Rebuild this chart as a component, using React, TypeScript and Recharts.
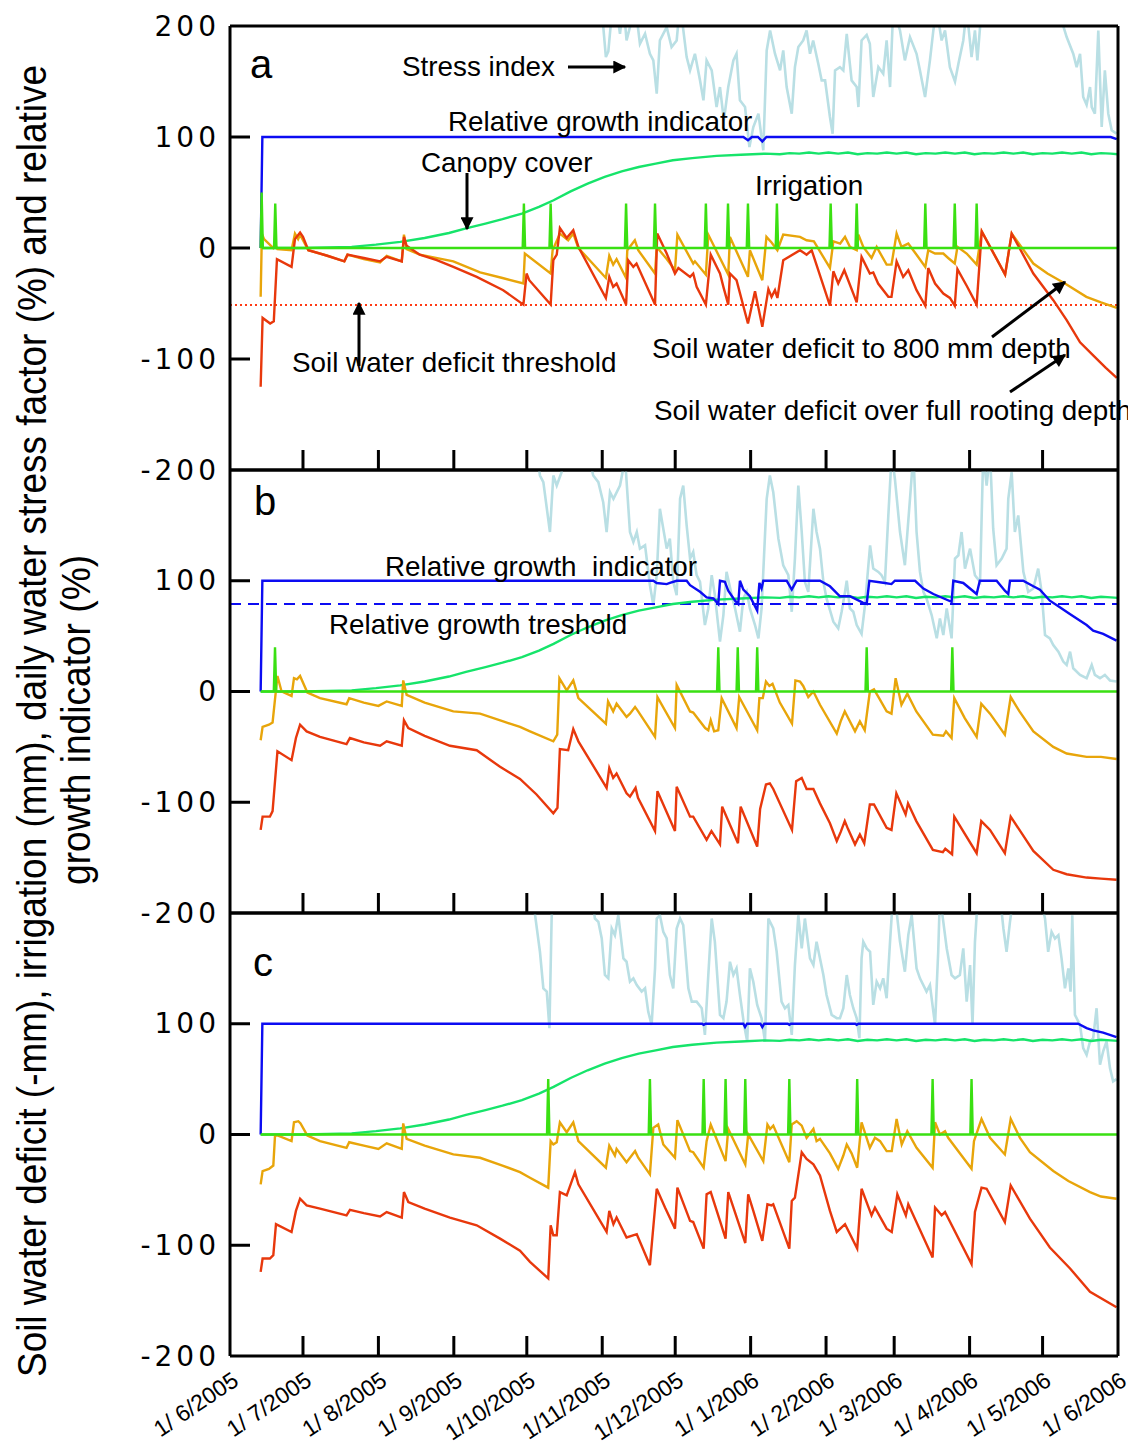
import React from "react";
import { LineChart, Line, XAxis, YAxis, ReferenceLine } from "recharts";

// x = days since 1 June 2005
const monthDays = [0, 30, 61, 92, 122, 153, 183, 214, 245, 273, 304, 334, 365];
const monthLabels = [
  "1/ 6/2005", "1/ 7/2005", "1/ 8/2005", "1/ 9/2005", "1/10/2005", "1/11/2005", "1/12/2005",
  "1/ 1/2006", "1/ 2/2006", "1/ 3/2006", "1/ 4/2006", "1/ 5/2006", "1/ 6/2006",
];
const yTicksFirst = [200, 100, 0, -100, -200];
const yTicksRest = [100, 0, -100, -200];
const seasonStart = 12.6;
const deficitThreshold = -51.4;
const growthThreshold = 79;

const canopy = [
  [12.6, 0], [30, 0], [40, 0.5], [50, 1], [60, 3], [70, 5.5], [80, 9], [90, 13.5], [97, 17.7], [105, 22],
  [112, 26], [120, 31], [127, 37], [133, 43], [140, 51], [147, 58], [154, 64], [161, 69], [168, 73], [175, 76],
  [182, 79], [190, 81], [200, 83], [210, 84], [220, 85], [226, 84.5], [230, 85.5], [234, 85], [238, 86], [242, 85],
  [246, 86], [250, 85], [254, 86], [258, 84.5], [262, 85.5], [266, 85], [270, 86], [274, 85], [278, 86], [282, 84.5],
  [286, 85.5], [290, 85], [294, 86], [298, 85], [302, 86], [306, 84.5], [310, 85.5], [314, 85], [318, 86], [322, 85],
  [326, 86], [330, 84.5], [334, 85.5], [338, 85], [342, 86], [346, 85], [350, 86], [354, 84.5], [358, 85.5], [362, 85], [365, 84.5],
];

// ---- panel a ----
const stressA = [
  [150, 240], [153.2, 205], [154.5, 172], [155.5, 177], [156.5, 201], [158.2, 225], [160.3, 193], [161.7, 220], [163, 187], [164.4, 199],
  [166.5, 220], [168.5, 184], [170.6, 193], [172.6, 175], [174, 169], [175.4, 139], [176.7, 187], [179.5, 199], [181.5, 181], [183.6, 187],
  [185, 220], [187.7, 172], [189.1, 160], [191.1, 175], [193.2, 151], [194.6, 133], [195.9, 169], [198, 160], [200, 127], [201.4, 145],
  [203, 115], [204.8, 145], [206.9, 169], [208.2, 175], [209.6, 133], [211.7, 127], [213.5, 91], [215.1, 109], [217.2, 121], [219.2, 88],
  [220.6, 178], [222, 196], [224, 175], [226.1, 160], [227.4, 178], [228.8, 145], [230.9, 121], [232.2, 163], [233.6, 181], [235.6, 187],
  [237, 196], [238.4, 175], [239.7, 187], [241.8, 166], [243.2, 151], [244.6, 151], [246.6, 118], [247.7, 103], [248.7, 160], [250.7, 163],
  [252.1, 160], [253.5, 193], [255.5, 151], [257.6, 145], [258.3, 127], [259.6, 187], [261.7, 192], [263, 184], [264.4, 136], [266.5, 163],
  [268.5, 157], [269.9, 187], [271.3, 145], [272.6, 215], [275.4, 196], [277.4, 169], [279.5, 190], [282.2, 175], [283.6, 160], [285.7, 136],
  [287.7, 169], [289.1, 196], [290.5, 215], [292.5, 187], [293.9, 196], [295.9, 163], [298, 150], [299.4, 166], [301.4, 187], [302.8, 215],
  [304.8, 172], [306.2, 196], [307.2, 169], [308.3, 199], [309.6, 225], [315, 240], [325, 235], [335, 240], [338.4, 220], [341.1, 210],
  [343.9, 190], [346.6, 175], [348, 163], [349.4, 175], [350.7, 136], [352.1, 129], [353.5, 145], [354.2, 127], [355.5, 121], [356.9, 196],
  [358.3, 109], [359.6, 160], [361, 121], [362.4, 106], [364.4, 103],
];
const growthA = [
  [12.6, 0], [13.3, 100], [211, 100], [212.9, 97], [214.5, 100], [217, 100], [218.8, 96], [220.5, 100], [362, 100], [364.5, 98],
];
const irrigationA = [
  [13, 50], [18.6, 40], [120.8, 40], [131.8, 40], [162.8, 40], [174.7, 40], [195.6, 40], [204.7, 40], [212.9, 40],
  [224.8, 40], [246.9, 40], [257.6, 40], [285.8, 40], [297.9, 40], [306.9, 40],
];
const deficit800A = [
  [12.6, -44], [13.1, 13], [14, 8], [17.8, 0], [18.6, 3], [19.5, -1], [25.3, -2], [26.7, 13], [28, 8], [28.8, 12],
  [32.2, -2], [40, -7], [47, -12], [48.3, -6], [55, -10], [61.7, -13], [64.4, -7], [70.6, -12], [71.5, 12], [72.6, -1],
  [78, -6], [91.8, -12], [102.8, -22], [112, -27], [120.6, -32], [121.2, -5], [131.8, -23], [132.6, -2], [135.6, 13], [139, 7],
  [141.1, 13], [143.2, 0], [154.5, -27], [155.9, -7], [157.5, -15], [158.9, -10], [162.8, -27], [163.3, -2], [166.4, 7], [167.8, -2],
  [174.7, -23], [175.4, 1], [179.5, -10], [182.9, -20], [183.9, 12], [190.4, -14], [191.1, -12], [195.6, -24], [196.6, 12], [204.8, -24],
  [205.5, 10], [212.9, -26], [213.7, -2], [218.8, -29], [220.5, 10], [222.6, 5], [225, -2], [227.4, 12], [234.3, 10], [237, 7],
  [240, 6], [246.6, -18], [248, 6], [250.8, 4], [252.8, 10], [254.8, 1], [257.6, -2], [258.3, 12], [260.3, 1], [263.7, -9],
  [265.8, 1], [269.9, -15], [271.9, -15], [274, 13], [276, 1], [278.8, 4], [282.2, -6], [285.8, -17], [287, -2], [289.8, -5],
  [293.2, -5], [295.2, -9], [297.9, -14], [299, 1], [302.8, -5], [306.9, -15], [309, 15], [318.6, -24], [321.3, 13], [330.2, -14],
  [336, -23], [343.2, -32], [352, -44], [358, -49], [364.5, -54],
];
const deficitRootA = [
  [12.6, -125], [13.4, -63], [16.5, -68], [18, -66], [19.3, -10], [25.3, -17], [26.7, 8], [28.8, 14], [30, 10], [32.2, -2],
  [40, -7], [47, -12], [48.3, -6], [55, -9], [61.7, -12], [64.4, -8], [70.6, -12], [71.5, 10], [72.6, 2], [78, -6],
  [85, -11], [91.8, -17], [101.4, -26], [112.3, -38], [120.6, -51], [121.9, -23], [123, -29], [131.8, -51], [132.9, -11], [134.3, -6],
  [135.6, 18], [138.4, 9], [141.1, 16], [143.2, 1], [154.5, -45], [155.9, -26], [157.5, -35], [158.9, -32], [162.8, -51], [163.7, -11],
  [165.8, -17], [167.1, -14], [174.7, -51], [175.6, 13], [179.5, -5], [182.9, -23], [184.3, -18], [189.1, -26], [190.4, -23], [191.8, -35],
  [195.6, -51], [197.6, -6], [201.4, -23], [202.8, -35], [204.8, -51], [205.5, -23], [208.2, -29], [212.9, -68], [215.8, -39], [218.8, -71],
  [221.3, -37], [222.6, -44], [224, -38], [225, -45], [227.4, -11], [234.3, -2], [237, -6], [239.1, -2], [246.6, -52], [248, -21],
  [250, -32], [252.5, -20], [257.6, -49], [259.6, -8], [263, -23], [264.4, -22], [266.4, -32], [270.6, -44], [271.9, -44], [274, -12],
  [276.7, -26], [278.8, -20], [282.2, -38], [285.8, -52], [287, -18], [289.8, -32], [293.2, -41], [295.9, -45], [297.9, -52], [299, -19],
  [302.8, -34], [306.9, -51], [309, 15], [318.6, -24], [321.3, 13], [330.2, -23], [338.4, -47], [343.9, -65], [349.4, -85], [354.9, -97],
  [360, -108], [364.5, -117],
];

// ---- panel b ----
const stressB = [
  [125, 235], [127.4, 195], [128.8, 189], [131.5, 144], [132.9, 195], [134.3, 186], [136.3, 198], [138, 230], [145, 235], [149.3, 195],
  [151.4, 189], [153.4, 171], [154.8, 144], [156.2, 180], [157.6, 174], [160.3, 186], [162.4, 210], [164.4, 144], [165.8, 135], [167.2, 144],
  [168.5, 129], [170.6, 132], [172.6, 96], [174, 78], [175.4, 105], [176.7, 165], [178.1, 147], [179.5, 129], [180.8, 138], [182.2, 99],
  [183.6, 87], [185, 174], [186.3, 186], [187.7, 150], [189.1, 120], [190.4, 126], [191.8, 105], [193.2, 99], [195.2, 60], [196.6, 75],
  [198, 105], [199.3, 87], [201.4, 45], [202.8, 69], [204.1, 108], [206.2, 87], [207.6, 75], [209.6, 54], [211, 84], [212.4, 90],
  [213.7, 75], [215.8, 60], [217.2, 48], [218.5, 75], [220.6, 174], [221.9, 195], [223.3, 180], [225.4, 138], [227.4, 114], [229.5, 105],
  [230.9, 72], [232.2, 120], [233.6, 186], [235, 144], [236.3, 99], [237.7, 90], [239.8, 165], [241.1, 144], [242.5, 129], [243.9, 99],
  [245.2, 84], [248, 63], [250, 57], [251.4, 72], [252.8, 90], [253.5, 100], [254.8, 75], [256.2, 72], [257.6, 60], [259.6, 52],
  [261, 78], [263.1, 132], [264.4, 111], [266.5, 108], [267.8, 105], [269.2, 99], [270.6, 159], [272, 215], [273.3, 192], [275.4, 144],
  [277.4, 114], [279.5, 174], [280.9, 215], [282.2, 144], [283.6, 108], [285, 90], [286.3, 84], [288.4, 69], [290.5, 48], [291.8, 66],
  [293.2, 51], [294.6, 75], [296.6, 48], [298, 120], [299.4, 123], [300.7, 144], [302.1, 111], [304.2, 129], [306.2, 105], [308.3, 99],
  [309.6, 215], [311, 186], [312.4, 215], [313.7, 147], [315.1, 114], [317.2, 120], [319.2, 129], [319.9, 174], [321.3, 198], [322.6, 144],
  [324, 159], [326.1, 108], [328.1, 90], [330.2, 93], [332.2, 111], [333.6, 90], [335, 51], [337, 48], [338.4, 42], [340.5, 36],
  [342.5, 27], [343.9, 24], [345.3, 36], [346.6, 21], [349.4, 15], [352.1, 12], [354.2, 24], [355.5, 15], [357.6, 12], [359.6, 15],
  [361.7, 10], [364.4, 9],
];
const growthB = [
  [12.6, 0], [13.3, 100], [174, 100], [175.4, 98], [179.5, 97], [180.8, 98], [183.6, 100], [187.7, 100], [189.1, 96], [193.2, 90],
  [195.9, 85], [198.7, 84], [200.7, 79], [201.4, 100], [203.4, 99], [204.8, 91], [207.6, 82], [208.9, 79], [209.6, 100], [211, 92],
  [213.7, 86], [216.7, 73], [217.6, 98], [218.5, 93], [219.2, 100], [228.8, 100], [230.9, 92], [232.9, 100], [242.5, 100], [246.6, 95],
  [250.7, 86], [254.8, 86], [260.3, 80], [261.7, 79], [262.8, 100], [269.2, 98], [271.9, 97], [273.3, 100], [281.6, 100], [285, 93],
  [289.1, 88], [296.6, 81], [297.3, 100], [301.4, 98], [306.9, 88], [308.2, 100], [315.1, 100], [318.5, 91], [319.9, 88], [320.6, 100],
  [326, 100], [330.2, 95], [332.9, 92], [337, 82], [341.1, 76], [345.2, 70], [352.1, 60], [354.8, 55], [358.9, 52], [364.4, 46],
];
const irrigationB = [[18.5, 40], [200.7, 40], [208.7, 40], [216.7, 40], [261.7, 40], [296.9, 40]];
const deficit800B = [
  [12.6, -44], [13.4, -32], [16, -30], [17.5, -28], [19.5, 14], [21.2, 0], [25.3, -4], [26.3, 12], [27.5, 11], [28.8, 14],
  [31.8, -1], [37, -6], [47.9, -11.5], [49, -6], [55, -10], [61, -13], [64.4, -9], [70.6, -13], [71.2, 10], [72.6, -3],
  [80, -10], [91.8, -18], [102.8, -20], [112.3, -27], [119.2, -32], [123.3, -36], [132.9, -45], [134.5, -39], [135.4, 12], [138.4, 1],
  [141.1, 10], [143.2, -6], [154.5, -29], [155.4, -9], [157.5, -18], [158.9, -11], [163, -23], [164.4, -20], [166.5, -14], [167.5, -17],
  [174.7, -41], [175.7, -5], [182.9, -33], [183.6, 6], [189.1, -18], [190.4, -19], [195.3, -33], [196.6, -35], [197.6, -26], [199, -36],
  [200.7, -35], [202.1, -6], [208.2, -33], [209.3, -5], [216.7, -35], [217.6, -6], [219, -6], [220.3, 9], [221.7, 5], [223, 7],
  [226, -10], [231, -29], [232.4, 10], [234.3, 9], [235.6, 5], [237.7, -5], [239.8, 0], [242.5, -12], [249.4, -38], [251, -27],
  [252.7, -18], [253.4, -21], [256.9, -36], [258.9, -27], [260.9, -35], [263, 0], [264.7, 2], [266.8, -6], [269.9, -18], [271.9, -20],
  [273.6, 12], [276, -12], [278.4, -2], [282.1, -18], [288.9, -39], [293.2, -40], [294.3, -36], [296.6, -42], [297.7, -6], [302, -24],
  [306.9, -41], [308.8, -11], [312.4, -20], [318.5, -39], [320.9, -5], [324.5, -18], [330.2, -36], [338.4, -50], [343.9, -56], [352.1, -59],
  [358, -59], [364.4, -61],
];
const deficitRootB = [
  [12.6, -125], [13.4, -113], [16.4, -113], [17.5, -108], [19.5, -54], [25.3, -62], [27.1, -42], [28.8, -30], [31.5, -36], [37, -41],
  [47.9, -47.5], [49.3, -42], [55, -46], [61.7, -49], [64.4, -45], [70.6, -49], [71.5, -26], [73.3, -33], [80, -40], [90.4, -49],
  [101.4, -53], [111, -68], [119.2, -79], [126, -93], [132.9, -110], [134.6, -105], [135.6, -52], [139, -53], [141.1, -34], [143.2, -45],
  [154.8, -87], [155.9, -69], [157.5, -78], [158.9, -74], [163, -92], [164.4, -95], [166.7, -87], [167.7, -96], [174.7, -126], [175.7, -90],
  [182.9, -126], [183.6, -86], [189.1, -113], [190.4, -113], [195.9, -134], [197.9, -126], [201.4, -138], [202.3, -104], [208.8, -137], [209.9, -104],
  [216.7, -140], [217.9, -106], [220.3, -84], [221.9, -83], [223.3, -88], [231, -125], [232.7, -81], [235, -78], [237, -88], [239.8, -88],
  [242.5, -101], [246.6, -119], [249.4, -135], [251, -127], [252.7, -117], [254, -124], [256.9, -138], [258.9, -129], [260.7, -137], [263, -102],
  [264.7, -102], [269.9, -123], [271.9, -125], [273.9, -92], [277.7, -111], [278.7, -101], [282.1, -117], [288.9, -143], [293, -145], [294, -142],
  [296.8, -147], [297.7, -113], [306.9, -146], [308.8, -117], [312.4, -125], [318.5, -146], [320.9, -113], [330.2, -144], [338.4, -161], [343.9, -165],
  [352.1, -168], [358, -169], [364.4, -170],
];

// ---- panel c ----
const stressC = [
  [124, 230], [125.4, 198], [127.4, 165], [128.8, 132], [130.2, 129], [131.3, 96], [132.2, 195], [133, 230], [140, 235], [148.7, 215],
  [150, 195], [151.4, 192], [152.8, 177], [154.1, 144], [155.5, 141], [156.9, 186], [158.2, 180], [159.6, 198], [161.7, 159], [163, 156],
  [164.4, 138], [165.8, 141], [167.2, 135], [169.2, 129], [170.6, 132], [171.9, 111], [173.3, 99], [174.7, 150], [175.4, 195], [176.7, 198],
  [178.1, 183], [179.5, 177], [180.8, 144], [182.2, 132], [183.6, 186], [185, 195], [186.3, 189], [188.4, 132], [189.8, 120], [191.8, 120],
  [193.9, 114], [195.2, 90], [196.6, 144], [198, 195], [199.3, 174], [201.4, 108], [202.8, 105], [204.1, 120], [205.5, 156], [206.9, 144],
  [208.2, 150], [209.6, 126], [211.3, 99], [212.6, 84], [213.7, 150], [215.1, 138], [216.7, 117], [218.5, 105], [219.9, 84], [221.3, 195],
  [223.3, 186], [224.7, 165], [226.7, 120], [228.1, 114], [229.5, 117], [230.9, 90], [232.2, 153], [233.6, 198], [235, 168], [236.3, 195],
  [238.4, 159], [239.8, 153], [241.1, 174], [243.9, 144], [245.2, 126], [247.3, 108], [249.4, 105], [250.7, 105], [252.1, 114], [253.5, 144],
  [254.8, 126], [256.2, 114], [257.6, 105], [258.7, 87], [259.6, 159], [260.3, 174], [261.7, 168], [263.1, 165], [264.4, 117], [265.8, 138],
  [267.2, 132], [268.5, 141], [269.9, 123], [271.3, 174], [272, 198], [273.3, 215], [275.4, 174], [277.4, 147], [278.8, 180], [280.2, 198],
  [282.2, 150], [283.6, 141], [286.3, 129], [287.7, 135], [289.8, 99], [291.1, 165], [291.8, 215], [293.2, 192], [294.6, 168], [296.6, 144],
  [298, 141], [300, 144], [301.4, 168], [302.8, 120], [304.2, 153], [305.2, 99], [306.2, 174], [306.9, 198], [308.3, 215], [312, 235],
  [316.5, 215], [317.9, 186], [319.2, 165], [320.6, 192], [322, 215], [327, 235], [332.9, 215], [335, 195], [336.3, 165], [337.7, 183],
  [339.1, 177], [340.5, 180], [341.8, 159], [343.2, 132], [344.6, 150], [345.5, 129], [346.2, 198], [347.3, 108], [349.4, 99], [350.7, 78],
  [352.1, 72], [353.5, 84], [354.8, 87], [356.2, 114], [357.6, 63], [358.9, 75], [360.3, 84], [361.7, 60], [363, 48], [364.4, 50],
];
const growthC = [
  [12.6, 0], [13.3, 100], [194, 100], [194.7, 99], [195.5, 100], [211, 100], [211.7, 97], [212.5, 100], [218, 100], [218.8, 97],
  [219.6, 100], [229.3, 100], [229.9, 99], [230.6, 100], [257, 100], [257.6, 99], [258.3, 100], [348.6, 100], [352.1, 96], [354.8, 94],
  [358.9, 92], [364.4, 88],
];
const irrigationC = [
  [130.8, 50], [172.6, 50], [194.7, 50], [203.7, 50], [211.8, 50], [229.9, 50], [257.8, 50], [288.8, 50], [304.8, 50],
];
const deficit800C = [
  [12.6, -45], [13.4, -33], [16, -31], [17.8, -28], [18.5, -1], [19.8, -1], [25.3, -6], [26.3, 11], [28.1, 12], [29, 10],
  [31.8, -1], [37, -6], [47.9, -12], [49, -7], [55, -10], [61, -13], [64.4, -8], [70.6, -13], [71.2, 10], [72.6, -4],
  [80, -10], [91.8, -18], [102.8, -21], [112, -28], [119.2, -34], [123.3, -39], [130.8, -48], [131.8, -6], [132.9, -9], [134.3, -7],
  [135.6, 11], [138.4, 2], [141.1, 11], [143.2, -6], [154.5, -30], [155.9, -10], [158.2, -19], [158.9, -13], [163, -25], [166.5, -15],
  [167.8, -21], [172.6, -36], [174, 6], [176, 9], [178.1, -9], [182.9, -21], [183.9, 13], [189.1, -15], [190.4, -16], [194.7, -30],
  [195.9, -6], [197.6, 9], [198.7, 3], [203.7, -24], [204.8, 5], [211.8, -27], [213, 0], [219.2, -24], [220.9, 9], [222, 5],
  [223.3, 8], [229.9, -25], [230.9, 9], [232.9, 12], [235, 8], [237, -3], [239.8, 5], [241.1, -6], [242.5, -4], [246.6, -17],
  [250, -31], [252.1, -19], [253.5, -9], [255.5, -17], [257.8, -30], [259.6, 11], [263, -12], [265.1, -3], [267.2, -6], [269.9, -15],
  [272, -15], [274, 14], [276.1, -9], [278.4, 3], [282.2, -12], [288.8, -30], [289.8, 11], [291.8, 0], [293.9, 3], [295.2, -3],
  [304.8, -31], [305.8, -6], [308.9, 14], [312.4, -3], [318.5, -18], [320.9, 14], [324.7, -3], [328.8, -16], [338.4, -33], [344.6, -42],
  [353.5, -52], [358, -56], [364.4, -58],
];
const deficitRootC = [
  [12.6, -124], [13.4, -112], [16.4, -112], [17.8, -109], [18.9, -81], [25.3, -88], [27.1, -69], [28.8, -58], [31.5, -64], [37, -67],
  [47.9, -73], [49.3, -68], [55, -71], [61.7, -74], [64.4, -70], [70.6, -75], [71.5, -52], [73.3, -61], [80, -67], [90.4, -75],
  [101.4, -82], [111, -94], [119.2, -105], [123.3, -115], [130.8, -130], [131.8, -82], [132.9, -91], [134.3, -91], [135.6, -52], [138.4, -55],
  [141.8, -34], [143.2, -45], [154.8, -88], [155.9, -69], [157.6, -81], [158.9, -75], [163, -93], [167.2, -90], [172.6, -118], [175.4, -49],
  [178.8, -66], [182.9, -85], [183.9, -48], [189.1, -78], [190.4, -79], [194.7, -103], [195.9, -54], [197.6, -52], [201.4, -78], [203.7, -94],
  [204.8, -52], [211.8, -98], [213, -54], [215.1, -69], [218.8, -96], [220.9, -63], [222.6, -64], [223.3, -63], [229.9, -103], [230.9, -60],
  [232.2, -57], [235, -16], [237, -22], [239.8, -27], [242.5, -37], [246.6, -69], [249.4, -88], [252.8, -81], [257.8, -103], [259.6, -49],
  [263.7, -73], [265.1, -66], [269.9, -85], [272, -88], [274.3, -54], [277.8, -73], [278.8, -63], [288.8, -111], [289.8, -66], [292.5, -73],
  [293.9, -70], [304.8, -117], [306.2, -70], [308.9, -48], [311, -49], [318.5, -79], [320.9, -46], [328.8, -76], [337, -102], [345.3, -121],
  [353.5, -142], [364.4, -156],
];

const C = {
  stress: "#b9dfe4",
  growth: "#0c0cf2",
  canopy: "#16e46a",
  irrigation: "#3ae012",
  d800: "#e8a50a",
  root: "#e8380c",
  threshold: "#ff3a14",
};

const pts = (arr: number[][]) => arr.map(([d, v]) => ({ d, v }));

const irrigationLine = (events: number[][]) => {
  const out = [{ d: seasonStart, v: 0 }];
  events.forEach(([d, mm]) => {
    out.push({ d: Math.max(seasonStart, d - 0.5), v: 0 }, { d, v: mm }, { d: d + 0.5, v: 0 });
  });
  out.push({ d: 365, v: 0 });
  return out;
};

const W = 1128;
const axisStyle = { stroke: "#000", strokeWidth: 3 };
const TICK = 20;

const leftTick = (p: any) => {
  const v = p.payload.value;
  return (
    <g>
      {Math.abs(v) < 200 && <line x1={p.x} x2={p.x + TICK} y1={p.y} y2={p.y} stroke="#000" strokeWidth={3} />}
      <text x={p.x - 10} y={p.y} dy={9.5} textAnchor="end" fontFamily="'DejaVu Sans', Verdana, sans-serif" fontSize={28} letterSpacing={4} fill="#000">
        {v}
      </text>
    </g>
  );
};
const rightTick = (p: any) => (
  <line x1={p.x - TICK} x2={p.x} y1={p.y} y2={p.y} stroke="#000" strokeWidth={3} />
);
const topTick = (p: any) => {
  const v = p.payload.value;
  if (v <= 0 || v >= 365) return <g />;
  return <line x1={p.x} x2={p.x} y1={p.y} y2={p.y + TICK} stroke="#000" strokeWidth={3} />;
};
const bottomTick = (withDates: boolean) => (p: any) => {
  const v = p.payload.value;
  const i = monthDays.indexOf(v);
  return (
    <g>
      {v > 0 && v < 365 && <line x1={p.x} x2={p.x} y1={p.y} y2={p.y - TICK} stroke="#000" strokeWidth={3} />}
      {withDates && (
        <text transform={`translate(${p.x + 10},${p.y + 28}) rotate(-34)`} textAnchor="end" fontSize={23} fill="#000" style={{ whiteSpace: "pre" }}>
          {monthLabels[i]}
        </text>
      )}
    </g>
  );
};

function Panel(props: any) {
  const { top, height, topH, bottomH, yTicks, stress, growth, irrigation, d800, root, dates, children } = props;
  const common = { xAxisId: "x", yAxisId: "y", dataKey: "v", dot: false, activeDot: false, isAnimationActive: false, strokeWidth: 2.4 } as any;
  return (
    <div style={{ position: "absolute", left: 0, top }}>
      <LineChart width={W} height={height} margin={{ top: 0, right: 8, bottom: 0, left: 152 }} style={{ overflow: "visible" }}>
        <XAxis xAxisId="x" type="number" dataKey="d" domain={[0, 365]} ticks={monthDays} interval={0} allowDataOverflow
          height={bottomH} axisLine={axisStyle} tickLine={false} tickSize={0} tickMargin={0} tick={bottomTick(dates)} />
        <XAxis xAxisId="top" orientation="top" type="number" dataKey="d" domain={[0, 365]} ticks={monthDays} interval={0}
          height={topH} axisLine={axisStyle} tickLine={false} tickSize={0} tickMargin={0} tick={topTick} />
        <YAxis yAxisId="y" type="number" domain={[-200, 200]} ticks={yTicks} interval={0} allowDataOverflow width={70}
          axisLine={axisStyle} tickLine={false} tickSize={0} tickMargin={0} tick={leftTick} />
        <YAxis yAxisId="right" orientation="right" type="number" domain={[-200, 200]} ticks={[100, 0, -100]} interval={0}
          width={10} axisLine={axisStyle} tickLine={false} tickSize={0} tickMargin={0} tick={rightTick} />
        <Line {...common} data={pts(stress)} stroke={C.stress} strokeWidth={2.6} />
        {children}
        <Line {...common} data={pts(canopy)} stroke={C.canopy} />
        <Line {...common} data={pts(growth)} stroke={C.growth} />
        <Line {...common} data={pts(d800)} stroke={C.d800} />
        <Line {...common} data={pts(root)} stroke={C.root} />
        <Line {...common} data={irrigationLine(irrigation)} stroke={C.irrigation} />
      </LineChart>
    </div>
  );
}

const T = ({ x, y, children, size = 27.8 }: any) => (
  <text x={x} y={y} fontSize={size} fill="#000" style={{ whiteSpace: "pre" }}>{children}</text>
);
const Arrow = ({ x1, y1, x2, y2 }: any) => (
  <line x1={x1} y1={y1} x2={x2} y2={y2} stroke="#000" strokeWidth={3} markerEnd="url(#head)" />
);

export default function App() {
  return (
    <div style={{ position: "relative", width: W, height: 1438, fontFamily: "'Liberation Sans', Arial, sans-serif", background: "#fff" }}>
      <Panel top={0} height={486} topH={18} bottomH={24} yTicks={yTicksFirst} stress={stressA} growth={growthA}
        irrigation={irrigationA} d800={deficit800A} root={deficitRootA} dates={false}>
        <ReferenceLine xAxisId="x" yAxisId="y" y={deficitThreshold} stroke={C.threshold} strokeWidth={2} strokeDasharray="2 3" />
      </Panel>
      <Panel top={452} height={477} topH={10} bottomH={24} yTicks={yTicksRest} stress={stressB} growth={growthB}
        irrigation={irrigationB} d800={deficit800B} root={deficitRootB} dates={false}>
        <ReferenceLine xAxisId="x" yAxisId="y" y={growthThreshold} stroke={C.growth} strokeWidth={2.2} strokeDasharray="11 7" />
      </Panel>
      <Panel top={895} height={543} topH={10} bottomH={90} yTicks={yTicksRest} stress={stressC} growth={growthC}
        irrigation={irrigationC} d800={deficit800C} root={deficitRootC} dates={true} />

      <svg width={W} height={1438} style={{ position: "absolute", left: 0, top: 0, pointerEvents: "none", overflow: "visible" }}>
        <defs>
          <marker id="head" viewBox="0 0 10 10" refX={9} refY={5} markerWidth={17} markerHeight={13}
            markerUnits="userSpaceOnUse" orient="auto">
            <path d="M0,0 L10,5 L0,10 z" fill="#000" />
          </marker>
        </defs>
        <text transform="translate(37.5,713) rotate(-90) scale(0.9226,1)" textAnchor="middle" fontSize={40} fill="#000">
          Soil water deficit (-mm), irrigation (mm), daily water stress factor (%) and relative
        </text>
        <text transform="translate(82,712) rotate(-90) scale(0.928,1)" textAnchor="middle" fontSize={40} fill="#000">
          growth indicator (%)
        </text>

        <T x={242} y={70} size={40}>a</T>
        <T x={246} y={507} size={40}>b</T>
        <T x={245} y={968} size={40}>c</T>

        <T x={394} y={68}>Stress index</T>
        <Arrow x1={560} y1={59} x2={617} y2={59} />
        <T x={440} y={123}>Relative growth indicator</T>
        <T x={413} y={164}>Canopy cover</T>
        <Arrow x1={459} y1={165} x2={459} y2={221} />
        <T x={747} y={187}>Irrigation</T>
        <T x={284} y={364}>Soil water deficit threshold</T>
        <Arrow x1={351} y1={358} x2={351} y2={295} />
        <T x={644} y={350}>Soil water deficit to 800 mm depth</T>
        <Arrow x1={984} y1={329} x2={1057} y2={274} />
        <T x={646} y={412}>Soil water deficit over full rooting depth</T>
        <Arrow x1={1002} y1={384} x2={1057} y2={347} />

        <T x={377} y={568}>{"Relative growth  indicator"}</T>
        <T x={321} y={626}>Relative growth treshold</T>
      </svg>
    </div>
  );
}
